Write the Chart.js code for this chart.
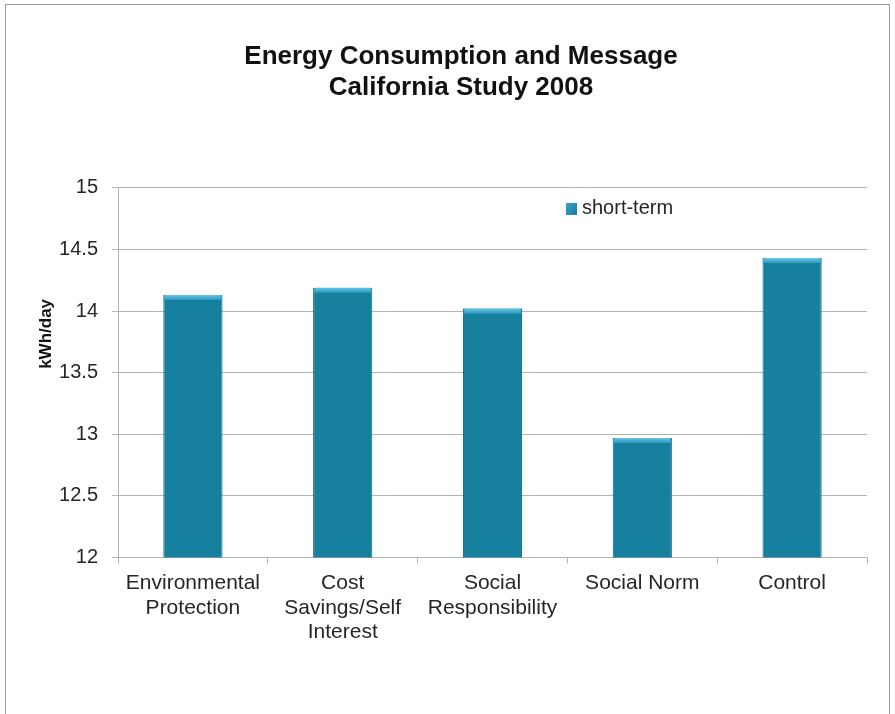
<!DOCTYPE html>
<html>
<head>
<meta charset="utf-8">
<script src="https://cdn.jsdelivr.net/npm/chart.js@4.4.1/dist/chart.umd.min.js"></script>
<style>
  html, body { margin: 0; padding: 0; background: #ffffff; }
  #wrap { width: 895px; height: 714px; position: relative; }
</style>
</head>
<body>
<div id="wrap"><canvas id="c" width="895" height="714"></canvas></div>
<script>
// Data
const categories = [
  ["Environmental", "Protection"],
  ["Cost", "Savings/Self", "Interest"],
  ["Social", "Responsibility"],
  "Social Norm",
  "Control"
];
const seriesName = "short-term";
const shortTerm = [14.13, 14.19, 14.02, 12.97, 14.43];
const yTicks = [12, 12.5, 13, 13.5, 14, 14.5, 15];
const titleLines = ["Energy Consumption and Message", "California Study 2008"];
const yTitle = "kWh/day";

const FONT = "'Liberation Sans', Arial, Helvetica, sans-serif";
const BAR = "#17809f";
const GRID = "#b3b3b3";
const TEXT = "#262626";

// Frame around the whole picture
const framePlugin = {
  id: "frame",
  beforeDraw(chart) {
    const ctx = chart.ctx;
    ctx.save();
    ctx.fillStyle = "#ffffff";
    ctx.fillRect(0, 0, chart.width, chart.height);
    ctx.strokeStyle = "#9a9a9a";
    ctx.lineWidth = 1;
    ctx.strokeRect(5.5, 4.5, chart.width - 11, chart.height + 10);
    ctx.restore();
  }
};

// Light bevel on top of each bar
const bevelPlugin = {
  id: "bevel",
  afterDatasetsDraw(chart) {
    const ctx = chart.ctx;
    const meta = chart.getDatasetMeta(0);
    ctx.save();
    meta.data.forEach(bar => {
      const { x, y, width } = bar.getProps(["x", "y", "width"], true);
      const l = x - width / 2, r = x + width / 2;
      const g = ctx.createLinearGradient(0, y, 0, y + 5);
      g.addColorStop(0, "#66c6e6");
      g.addColorStop(1, "#2b98be");
      ctx.fillStyle = g;
      ctx.beginPath();
      ctx.moveTo(l, y + 5);
      ctx.lineTo(l + 2, y);
      ctx.lineTo(r - 2, y);
      ctx.lineTo(r, y + 5);
      ctx.closePath();
      ctx.fill();
    });
    ctx.restore();
  }
};

// Rotated axis title and the in-plot legend
const annotPlugin = {
  id: "annot",
  afterDraw(chart) {
    const ctx = chart.ctx;
    const a = chart.chartArea;
    ctx.save();
    // y-axis title
    ctx.translate(a.left - 72, a.top + (a.bottom - a.top) * 0.395);
    ctx.rotate(-Math.PI / 2);
    ctx.font = "bold 17px " + FONT;
    ctx.fillStyle = "#111111";
    ctx.textAlign = "center";
    ctx.textBaseline = "middle";
    ctx.fillText(yTitle, 0, 0);
    ctx.restore();

    // legend
    ctx.save();
    const lx = a.left + 448, ly = a.top + 21;
    const g = ctx.createLinearGradient(lx, ly - 6, lx + 11, ly + 6);
    g.addColorStop(0, "#3aa7cc");
    g.addColorStop(1, "#14789a");
    ctx.fillStyle = g;
    ctx.fillRect(lx, ly - 6, 11, 12);
    ctx.font = "20px " + FONT;
    ctx.fillStyle = TEXT;
    ctx.textAlign = "left";
    ctx.textBaseline = "middle";
    ctx.fillText(chart.data.datasets[0].label, lx + 16, ly);
    ctx.restore();
  }
};

new Chart(document.getElementById("c"), {
  type: "bar",
  data: {
    labels: categories,
    datasets: [{
      label: seriesName,
      data: shortTerm,
      backgroundColor: BAR,
      borderColor: "#0f6682",
      borderWidth: { left: 1, right: 1, top: 0, bottom: 0 },
      borderSkipped: false,
      barPercentage: 0.395,
      categoryPercentage: 1.0
    }]
  },
  options: {
    responsive: false,
    animation: false,
    devicePixelRatio: 1,
    layout: { padding: { left: 55, right: 28, top: 0, bottom: 0 } },
    plugins: {
      legend: { display: false },
      tooltip: { enabled: false },
      title: {
        display: true,
        text: titleLines,
        color: "#111111",
        font: { family: FONT, size: 26, weight: "bold", lineHeight: 1.19 },
        padding: { top: 41, bottom: 85 }
      }
    },
    scales: {
      x: {
        grid: {
          offset: true,
          drawOnChartArea: false,
          drawTicks: true,
          tickLength: 6,
          color: GRID
        },
        border: { color: GRID, width: 1 },
        ticks: {
          color: TEXT,
          font: { family: FONT, size: 21, lineHeight: 1.15 },
          padding: 8,
          maxRotation: 0,
          autoSkip: false
        },
        afterFit(scale) { scale.height = 156.5; }
      },
      y: {
        min: 12,
        max: 15,
        afterBuildTicks(scale) { scale.ticks = yTicks.map(v => ({ value: v })); },
        grid: { color: GRID, tickLength: 6, drawTicks: true },
        border: { color: GRID, width: 1 },
        ticks: {
          color: TEXT,
          font: { family: FONT, size: 20 },
          padding: 14,
          callback: v => String(v)
        },
        afterFit(scale) { scale.width = 63; }
      }
    }
  },
  plugins: [framePlugin, bevelPlugin, annotPlugin]
});
</script>
</body>
</html>
